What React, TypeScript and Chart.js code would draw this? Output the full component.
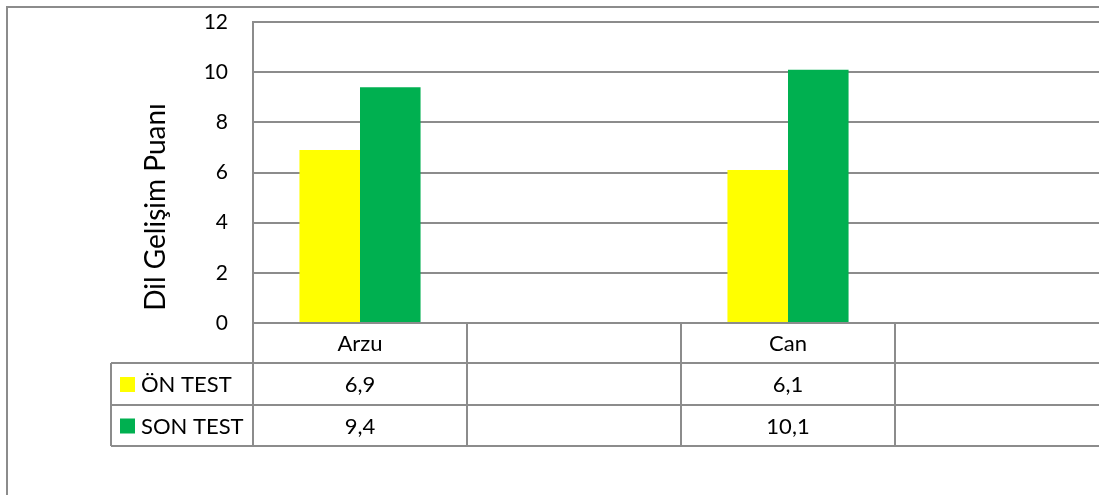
import React, { useEffect, useRef } from "react";
import { Chart, registerables } from "chart.js";

Chart.register(...registerables);

const categories = ["Arzu", "", "Can", ""];
const seriesNames = ["ÖN TEST", "SON TEST"];
const onTest: (number | null)[] = [6.9, null, 6.1, null];
const sonTest: (number | null)[] = [9.4, null, 10.1, null];
const seriesColors = ["#FFFF00", "#00B050"];
const yMin = 0;
const yMax = 12;
const yStep = 2;
const axisTitle = "Dil Gelişim Puanı";

const FONT = "Lato, 'Noto Sans', sans-serif";
const LINE = "#8c8c8c";

const fmt = (v: number | null) => (v == null ? "" : v.toFixed(1).replace(".", ","));

const tablePlugin = {
  id: "dataTable",
  afterDraw(chart: any) {
    const ctx = chart.ctx as CanvasRenderingContext2D;
    const x = chart.scales.x;
    const area = chart.chartArea;
    const catW = x.getPixelForValue(1) - x.getPixelForValue(0);
    const top = area.bottom;
    const rowH = [40, 42, 41];
    const r1 = top + rowH[0];
    const r2 = r1 + rowH[1];
    const r3 = r2 + rowH[2];
    const tableLeft = 111;
    ctx.save();
    ctx.strokeStyle = LINE;
    ctx.lineWidth = 2;
    ctx.beginPath();
    [r1, r2, r3].forEach((yy) => {
      ctx.moveTo(tableLeft, yy);
      ctx.lineTo(chart.width, yy);
    });
    ctx.moveTo(tableLeft, r1);
    ctx.lineTo(tableLeft, r3);
    for (let i = 0; i <= categories.length; i++) {
      const bx = x.getPixelForValue(0) - catW / 2 + i * catW;
      ctx.moveTo(bx, top);
      ctx.lineTo(bx, r3);
    }
    ctx.stroke();

    // outer chart border
    ctx.beginPath();
    ctx.moveTo(7, chart.height);
    ctx.lineTo(7, 7);
    ctx.lineTo(chart.width, 7);
    ctx.stroke();

    ctx.fillStyle = "#000";
    ctx.font = `22px ${FONT}`;
    ctx.textBaseline = "middle";
    ctx.textAlign = "center";
    categories.forEach((c, i) => {
      ctx.fillText(c, x.getPixelForValue(i), (top + r1) / 2 + 1);
    });
    const rows = [onTest, sonTest];
    const rowMids = [(r1 + r2) / 2 + 1, (r2 + r3) / 2 + 1];
    rows.forEach((vals, ri) => {
      ctx.textAlign = "center";
      ctx.fillStyle = "#000";
      vals.forEach((v, i) => {
        ctx.fillText(fmt(v), x.getPixelForValue(i), rowMids[ri]);
      });
      ctx.fillStyle = seriesColors[ri];
      ctx.fillRect(120, rowMids[ri] - 8, 15, 15);
      ctx.fillStyle = "#000";
      ctx.textAlign = "left";
      ctx.fillText(seriesNames[ri], 141, rowMids[ri]);
    });

    // y-axis title
    ctx.save();
    ctx.translate(156, 207);
    ctx.rotate(-Math.PI / 2);
    ctx.textAlign = "center";
    ctx.textBaseline = "middle";
    ctx.font = `28px ${FONT}`;
    ctx.fillText(axisTitle, 0, 0);
    ctx.restore();
    ctx.restore();
  },
};

export default function App() {
  const ref = useRef<HTMLCanvasElement>(null);
  useEffect(() => {
    document.body.style.margin = "0";
    const canvas = ref.current!;
    const chart = new Chart(canvas, {
      type: "bar",
      data: {
        labels: categories,
        datasets: [
          {
            label: seriesNames[0],
            data: onTest,
            backgroundColor: seriesColors[0],
            borderWidth: 0,
            barPercentage: 1,
            categoryPercentage: 0.566,
          },
          {
            label: seriesNames[1],
            data: sonTest,
            backgroundColor: seriesColors[1],
            borderWidth: 0,
            barPercentage: 1,
            categoryPercentage: 0.566,
          },
        ],
      },
      options: {
        responsive: false,
        animation: false,
        devicePixelRatio: 1,
        layout: { padding: { top: 22, bottom: 172, left: 0, right: 3 } },
        plugins: { legend: { display: false }, tooltip: { enabled: false } },
        scales: {
          x: { display: false, offset: true },
          y: {
            min: yMin,
            max: yMax,
            ticks: {
              stepSize: yStep,
              color: "#000",
              padding: 3,
              font: { family: FONT, size: 21 },
            },
            grid: {
              color: LINE,
              lineWidth: 2,
              drawTicks: true,
              tickLength: 22,
              tickColor: "rgba(0,0,0,0)",
            },
            border: { display: true, color: LINE, width: 2 },
            afterFit: (s: any) => {
              s.width = 253;
            },
          },
        },
      },
      plugins: [tablePlugin],
    });
    return () => chart.destroy();
  }, []);
  return (
    <div style={{ position: "fixed", left: 0, top: 0, width: 1099, height: 495, overflow: "hidden", background: "#fff" }}>
      <canvas ref={ref} width={1112} height={495} style={{ display: "block" }} />
    </div>
  );
}
